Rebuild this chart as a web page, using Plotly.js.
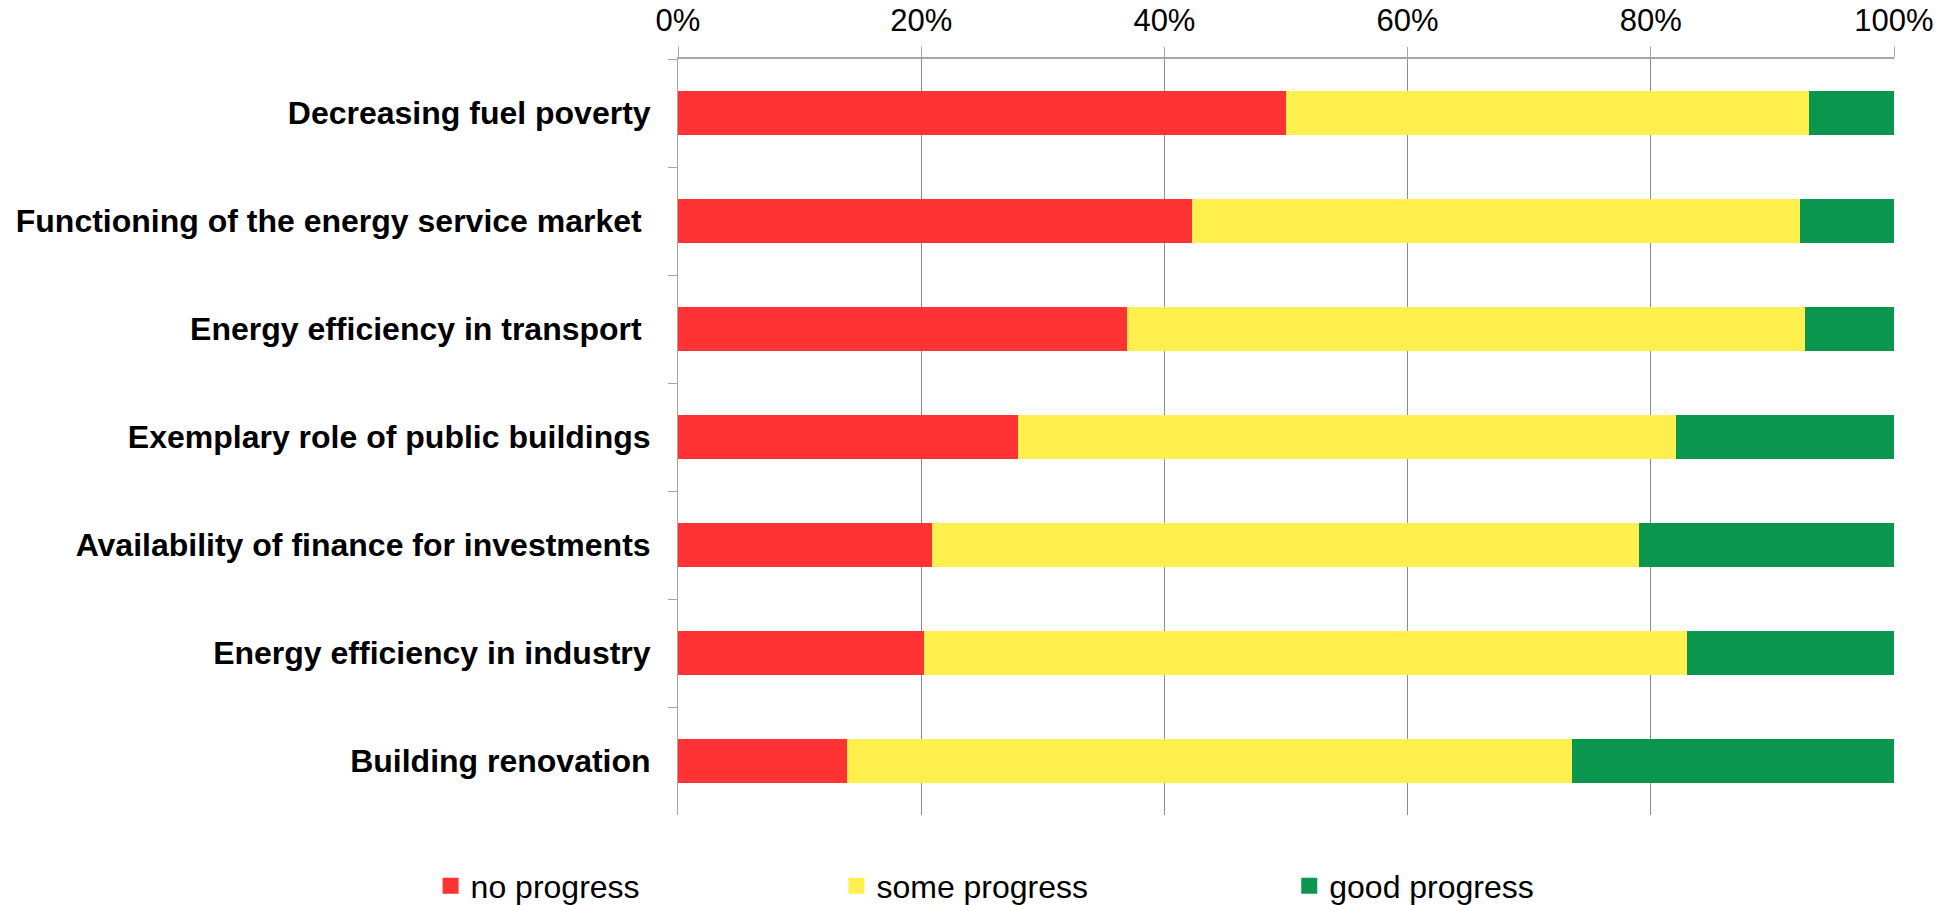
<!DOCTYPE html>
<html>
<head>
<meta charset="utf-8">
<script src="https://cdn.plot.ly/plotly-3.0.1.min.js"></script>
<style>html,body{margin:0;padding:0;background:#fff;}#chart{width:1952px;height:905px;}</style>
</head>
<body>
<div id="chart"></div>
<script>
const categories = [
  "Decreasing fuel poverty",
  "Functioning of the energy service market\u00a0",
  "Energy efficiency in transport\u00a0",
  "Exemplary role of public buildings",
  "Availability of finance for investments",
  "Energy efficiency in industry",
  "Building renovation"
];
const noProgress   = [50.0, 42.3, 36.9, 28.0, 20.9, 20.2, 13.9];
const someProgress = [43.0, 50.0, 55.8, 54.1, 58.1, 62.8, 59.6];
const goodProgress = [7.0, 7.7, 7.3, 17.9, 21.0, 17.0, 26.5];
const seriesNames  = ["no progress", "some progress", "good progress"];
const tickVals  = [0, 20, 40, 60, 80, 100];
const tickText  = ["0%", "20%", "40%", "60%", "80%", "100%"];

const colors = ["#FF3333", "#FFF04D", "#0B9650"];
const FONT = "Liberation Sans, Arial, sans-serif";

const series = [noProgress, someProgress, goodProgress];
const legends = ["legend", "legend2", "legend3"];
const traces = series.map((vals, i) => ({
  type: "bar",
  orientation: "h",
  name: seriesNames[i],
  y: categories,
  x: vals,
  marker: {color: colors[i], line: {width: 0}},
  showlegend: false,
  hoverinfo: "x+y+name"
}));
// legend entries (square keys) for each series
series.forEach((vals, i) => {
  traces.push({
    type: "scatter",
    mode: "markers",
    name: seriesNames[i],
    x: [null],
    y: [null],
    marker: {symbol: "square", size: 16, color: colors[i]},
    legend: legends[i],
    showlegend: true,
    hoverinfo: "skip"
  });
});

const L = 677.5, R = 1894, T = 59.3, B = 815;
const W = R - L, H = B - T;
function px(p) { return (p - L) / W; }
function py(p) { return (B - p) / H; }

const legendBase = {
  orientation: "h",
  xanchor: "left",
  yanchor: "middle",
  font: {family: FONT, size: 32, color: "#000"},
  bgcolor: "rgba(0,0,0,0)",
  borderwidth: 0,
  itemwidth: 30
};

const layout = {
  width: 1952,
  height: 905,
  paper_bgcolor: "#fff",
  plot_bgcolor: "#fff",
  margin: {l: L, r: 1952 - R, t: T, b: 905 - B, pad: 0, autoexpand: false},
  barmode: "stack",
  bargap: 0.6,
  font: {family: FONT, size: 31, color: "#000"},
  xaxis: {
    side: "top",
    range: [0, 100],
    tickvals: tickVals,
    ticktext: tickText,
    showgrid: true,
    gridcolor: "#8c8c8c",
    gridwidth: 1,
    showline: true,
    linecolor: "#a6a6a6",
    linewidth: 2,
    ticks: "outside",
    ticklen: 10,
    tickcolor: "#a6a6a6",
    tickwidth: 1,
    ticklabelstandoff: 4,
    zeroline: false,
    tickfont: {family: FONT, size: 31, color: "#000"},
    fixedrange: true,
    automargin: false
  },
  yaxis: {
    type: "category",
    autorange: "reversed",
    showgrid: false,
    showline: true,
    linecolor: "#a6a6a6",
    linewidth: 1,
    ticks: "outside",
    tickson: "boundaries",
    ticklen: 9,
    tickcolor: "#a6a6a6",
    ticklabelstandoff: 20,
    tickfont: {family: FONT, size: 32, color: "#000", weight: "bold"},
    fixedrange: true,
    automargin: false
  },
  legend:  Object.assign({}, legendBase, {x: px(430), y: py(886)}),
  legend2: Object.assign({}, legendBase, {x: px(836), y: py(886)}),
  legend3: Object.assign({}, legendBase, {x: px(1289), y: py(886)}),
  showlegend: true
};

Plotly.newPlot("chart", traces, layout, {displayModeBar: false, staticPlot: true});
</script>
</body>
</html>
